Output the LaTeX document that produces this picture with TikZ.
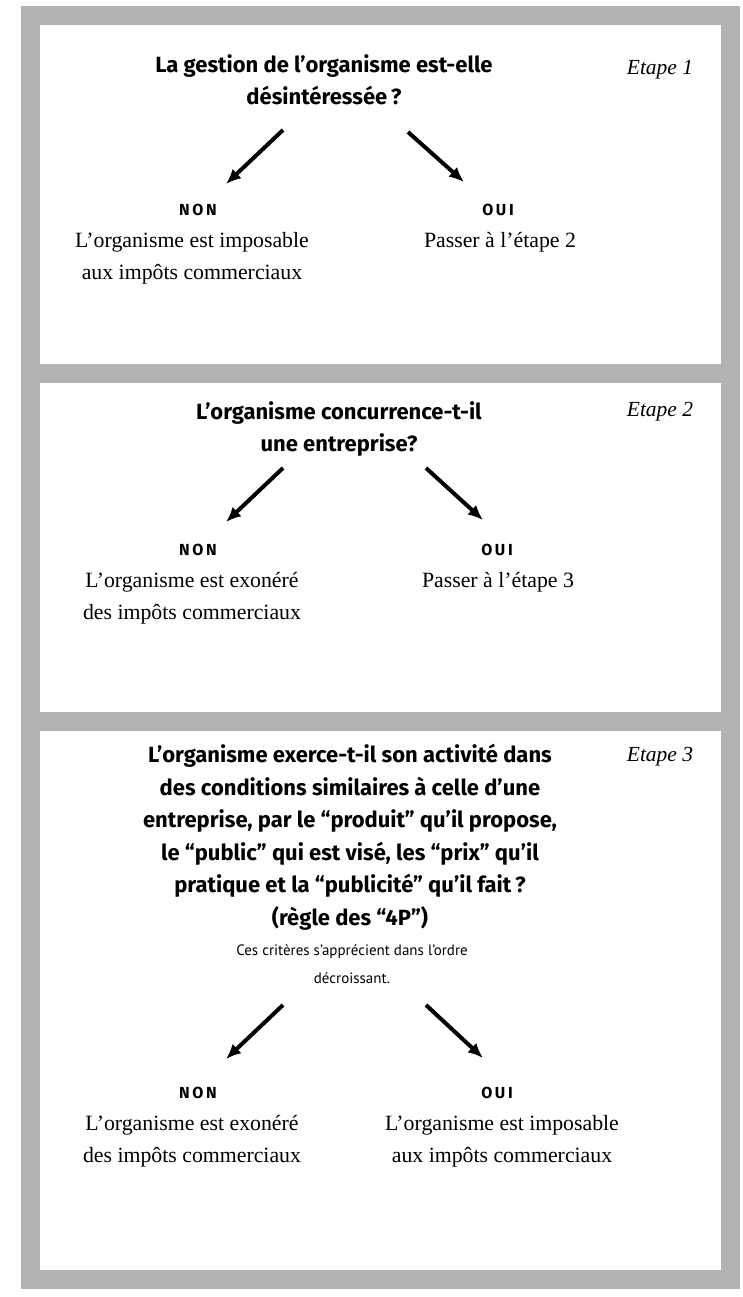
\documentclass[tikz,border=0pt]{standalone}
\usepackage{fontspec}
\setmainfont{Liberation Serif}
\newfontfamily\qsans{Fira Sans}
\newfontfamily\csans{PT Sans}
\usetikzlibrary{arrows.meta}
\definecolor{framegrey}{HTML}{B3B3B3}
\begin{document}
\begin{tikzpicture}[x=1pt,y=-1pt]
    \tikzset{>={Latex[length=15pt,width=13pt]}}
    \tikzset{frame/.style={draw=framegrey,line width=19pt},
      question/.style={align=center,inner sep=0pt,font=\qsans\bfseries\fontsize{22}{32.5}\selectfont},
      etape/.style={inner sep=0pt,font=\itshape\fontsize{21.5}{24}\selectfont},
      answer/.style={inner sep=0pt,font=\qsans\bfseries\fontsize{16}{20}\selectfont},
      result/.style={align=center,inner sep=0pt,font=\fontsize{21.8}{32}\selectfont},
      choice/.style={->,line width=4pt}}
    \useasboundingbox (0,0) rectangle (743,1297);
    % frame and dividers
    \draw[frame] (30,16) -- (730,16) -- (730,1279) -- (30,1279) -- cycle;
    \draw[frame] (30,373) -- (730,373);
    \draw[frame] (30,721) -- (730,721);
    % step 1
    \node[question] (q1) at (324,80) {La gestion de l’organisme est-elle\\ désintéressée\,?};
    \node[etape] (e1) at (660,70) {Etape 1};
    \coordinate (q1l) at (283,130);
    \coordinate (q1r) at (408,132);
    \coordinate (n1) at (226,184);
    \coordinate (o1) at (464,182);
    \draw[choice] (q1l) -- (n1);
    \draw[choice] (q1r) -- (o1);
    \node[answer] (non1) at (198,210) {N\,O\,N};
    \node[answer] (oui1) at (498,210) {O\,U\,I};
    \node[result,anchor=north] (r1a) at (192,232) {L’organisme est imposable\\ aux impôts commerciaux};
    \node[result,anchor=north] (r1b) at (500,232) {Passer à l’étape 2};
    % step 2
    \node[question] (q2) at (339,429) {L’organisme concurrence-t-il\\ une entreprise?};
    \node[etape] (e2) at (660,412) {Etape 2};
    \coordinate (q2l) at (283,468);
    \coordinate (q2r) at (426,468);
    \coordinate (n2) at (226,522);
    \coordinate (o2) at (483,520);
    \draw[choice] (q2l) -- (n2);
    \draw[choice] (q2r) -- (o2);
    \node[answer] (non2) at (198,550) {N\,O\,N};
    \node[answer] (oui2) at (497,550) {O\,U\,I};
    \node[result,anchor=north] (r2a) at (192,572) {L’organisme est exonéré\\ des impôts commerciaux};
    \node[result,anchor=north] (r2b) at (498,572) {Passer à l’étape 3};
    % step 3
    \node[question] (q3) at (350,837) {L’organisme exerce-t-il son activité dans\\ des conditions similaires à celle d’une\\ entreprise, par le “produit” qu’il propose,\\ le “public” qui est visé, les “prix” qu’il\\ pratique et la “publicité” qu’il fait\,?\\ (règle des “4P”)};
    \node[etape] (e3) at (660,757) {Etape 3};
    \node[align=center,inner sep=0pt,font=\csans\fontsize{15}{28}\selectfont] (crit) at (352,964) {Ces critères s’apprécient dans l’ordre\\ décroissant.};
    \coordinate (q3l) at (283,1005);
    \coordinate (q3r) at (426,1005);
    \coordinate (n3) at (226,1059);
    \coordinate (o3) at (483,1058);
    \draw[choice] (q3l) -- (n3);
    \draw[choice] (q3r) -- (o3);
    \node[answer] (non3) at (198,1093) {N\,O\,N};
    \node[answer] (oui3) at (497,1093) {O\,U\,I};
    \node[result,anchor=north] (r3a) at (192,1115) {L’organisme est exonéré\\ des impôts commerciaux};
    \node[result,anchor=north] (r3b) at (502,1115) {L’organisme est imposable\\ aux impôts commerciaux};
\end{tikzpicture}
\end{document}
